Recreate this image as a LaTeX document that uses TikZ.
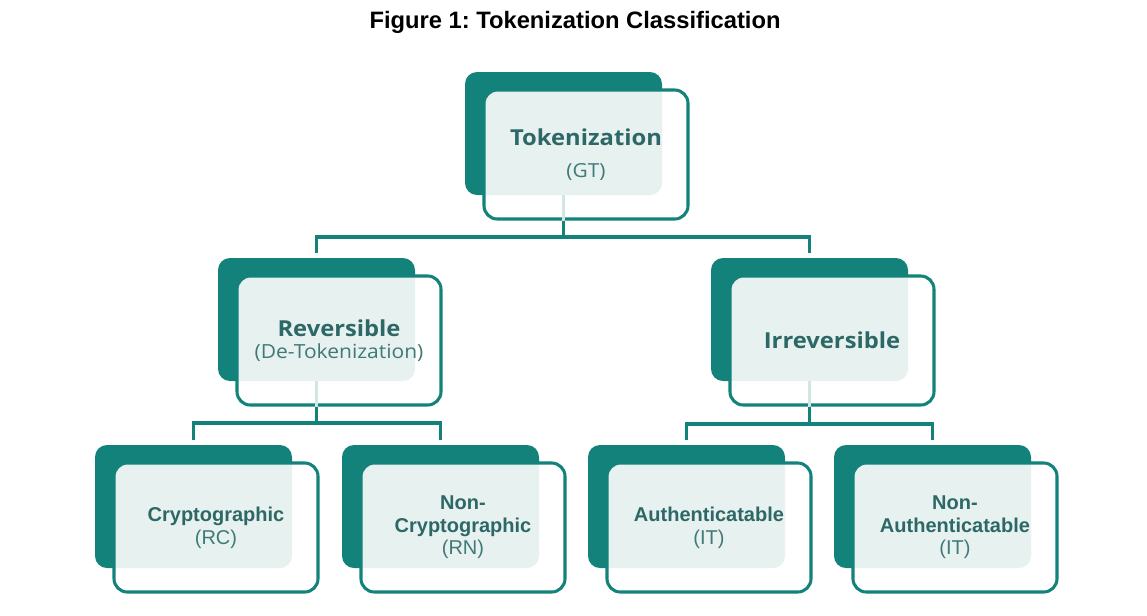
\documentclass[tikz,border=0pt]{standalone}
\usepackage{fontspec}
\setmainfont{Liberation Sans}
\newfontfamily\segoe[FakeStretch=1.08]{Open Sans}
\usetikzlibrary{calc}
\definecolor{tealdark}{HTML}{13827A}
\definecolor{teallight}{HTML}{E7F1F0}
\definecolor{tealfaint}{HTML}{D2E6E3}
\definecolor{tealtext}{HTML}{2D6866}
\definecolor{tealparen}{HTML}{3F7A77}
\tikzset{
  backbox/.style={fill=tealdark, rounded corners=9pt, minimum width=147.75pt, minimum height=92.25pt, inner sep=0pt},
  frontbox/.style={draw=tealdark, line width=2.3pt, rounded corners=10pt, minimum width=153pt, minimum height=96.75pt, inner sep=0pt, align=center},
  conn/.style={draw=tealdark, line width=2.4pt},
  faint/.style={draw=tealfaint, line width=2.4pt},
  bigfont/.style={font=\segoe\fontsize{14.5}{24}\selectfont},
  midfont/.style={font=\segoe\fontsize{14.6}{16.5}\selectfont},
  lowfont/.style={font=\fontsize{15}{17}\selectfont}
}
\newcommand\tkbox[5]{%
  \node[backbox] (#1b) at (#2+98.5,#3+61.5) {};
  \fill[white, rounded corners=10pt] (#2+19,#3+18) rectangle (#2+223,#3+147);
  \begin{scope}
    \clip[rounded corners=10pt] (#2+19,#3+18) rectangle (#2+223,#3+147);
    \fill[teallight, rounded corners=9pt] (#2,#3) rectangle (#2+197,#3+123);
  \end{scope}
  \node[frontbox,#4] (#1) at (#2+121,#3+82.5) {#5};
}
\newcommand\nm[1]{{\bfseries\color{tealtext}#1}}
\newcommand\pr[1]{{\color{tealparen}#1}}
\newcommand\nmbig[1]{{\fontsize{16.5}{24}\selectfont\bfseries\color{tealtext}#1}}
\newcommand\nmmid[1]{{\fontsize{16.5}{16.5}\selectfont\bfseries\color{tealtext}#1}}
\begin{document}
\frenchspacing
\begin{tikzpicture}[x=0.75pt,y=-0.75pt]
  \useasboundingbox (0,0) rectangle (1147,615);
  \node[font=\bfseries\fontsize{17.8}{20}\selectfont] (title) at (575,22) {Figure 1: Tokenization Classification};

  \tkbox{top}{465}{72}{bigfont}{\nmbig{Tokenization}\\\pr{(GT)}}
  \tkbox{rev}{218}{258}{midfont}{\nmmid{Reversible}\\\pr{(De-Tokenization)}}
  \tkbox{irr}{711}{258}{midfont}{\nmmid{Irreversible}}
  \tkbox{cry}{95}{445}{lowfont}{\nm{Cryptographic}\\\pr{(RC)}}
  \tkbox{ncr}{342}{445}{lowfont}{\nm{Non-}\\\nm{Cryptographic}\\\pr{(RN)}}
  \tkbox{aut}{588}{445}{lowfont}{\nm{Authenticatable}\\\pr{(IT)}}
  \tkbox{nau}{834}{445}{lowfont}{\nm{Non-}\\\nm{Authenticatable}\\\pr{(IT)}}

  \coordinate (bus1) at (0,237);
  \coordinate (bus2) at (0,423);
  \coordinate (bus3) at (0,424);

  \draw[faint] (topb.south) -- (topb.center |- top.south);
  \draw[faint] (revb.south) -- (revb.center |- rev.south);
  \draw[faint] (irrb.south) -- (irrb.center |- irr.south);

  \draw[conn, shorten >=3.5pt] (topb.center |- top.south) -- (topb.center |- bus1) -| (revb.north);
  \draw[conn, shorten >=3.5pt] (topb.center |- top.south) -- (topb.center |- bus1) -| (irrb.north);
  \draw[conn, shorten >=3.5pt] (revb.center |- rev.south) -- (revb.center |- bus2) -| (cryb.north);
  \draw[conn, shorten >=3.5pt] (revb.center |- rev.south) -- (revb.center |- bus2) -| (ncrb.north);
  \draw[conn, shorten >=3.5pt] (irrb.center |- irr.south) -- (irrb.center |- bus3) -| (autb.north);
  \draw[conn, shorten >=3.5pt] (irrb.center |- irr.south) -- (irrb.center |- bus3) -| (naub.north);
\end{tikzpicture}
\end{document}
